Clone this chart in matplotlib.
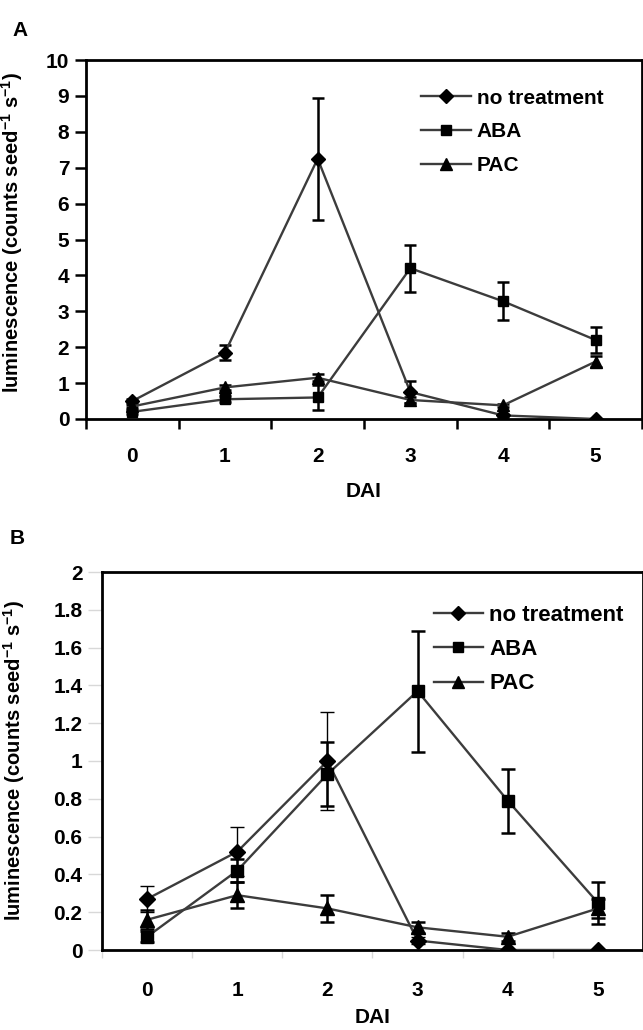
import matplotlib
matplotlib.use("Agg")
import matplotlib.pyplot as plt
from matplotlib.lines import Line2D
import numpy as np

plt.rcParams['font.family'] = ['Liberation Sans', 'DejaVu Sans']
plt.rcParams['font.weight'] = 'bold'
plt.rcParams['mathtext.fontset'] = 'custom'
plt.rcParams['mathtext.rm'] = 'Liberation Sans:bold'
plt.rcParams['mathtext.bf'] = 'Liberation Sans:bold'
plt.rcParams['mathtext.default'] = 'bf'

days = [0, 1, 2, 3, 4, 5]
series_names = ['no treatment', 'ABA', 'PAC']

# Panel A
a_none = [0.50, 1.85, 7.25, 0.75, 0.10, 0.00]
a_none_err = [0.05, 0.20, 1.70, 0.30, 0.05, 0.00]
a_aba = [0.20, 0.55, 0.60, 4.20, 3.28, 2.20]
a_aba_err = [0.05, 0.08, 0.35, 0.65, 0.53, 0.37]
a_pac = [0.35, 0.88, 1.15, 0.53, 0.38, 1.60]
a_pac_err = [0.05, 0.08, 0.10, 0.08, 0.05, 0.15]

# Panel B
b_none = [0.27, 0.52, 1.00, 0.05, 0.00, 0.00]
b_none_err = [0.07, 0.13, 0.26, 0.02, 0.00, 0.00]
b_aba = [0.07, 0.42, 0.93, 1.37, 0.79, 0.25]
b_aba_err = [0.03, 0.06, 0.17, 0.32, 0.17, 0.11]
b_pac = [0.16, 0.29, 0.22, 0.12, 0.07, 0.22]
b_pac_err = [0.05, 0.07, 0.07, 0.03, 0.02, 0.05]

a_yticks = [0, 1, 2, 3, 4, 5, 6, 7, 8, 9, 10]
b_yticks = [0, 0.2, 0.4, 0.6, 0.8, 1, 1.2, 1.4, 1.6, 1.8, 2]
b_yticklabels = ['0', '0.2', '0.4', '0.6', '0.8', '1', '1.2', '1.4', '1.6', '1.8', '2']

LINE = '#3c3c3c'
W, H = 643, 1030
FS = 15
fig = plt.figure(figsize=(W / 100, H / 100), dpi=100)


def px_axes(left, top, right, bottom):
    return fig.add_axes([left / W, 1 - bottom / H, (right - left) / W, (bottom - top) / H])


ylabel = r'luminescence (counts seed$^{-1}$ s$^{-1}$)'

# ---------- Panel A ----------
axA = px_axes(86, 60, 642, 419)
mk = {'no treatment': ('D', 7.5), 'ABA': ('s', 7.5), 'PAC': ('^', 9)}
handlesA = []
for name, y, e in zip(series_names, [a_none, a_aba, a_pac], [a_none_err, a_aba_err, a_pac_err]):
    m, ms = mk[name]
    axA.errorbar(days, y, yerr=e, color=LINE, lw=1.7, marker=m, ms=ms, mfc='black', mec='black',
                 ecolor='black', elinewidth=1.8, capsize=4.5, capthick=1.8, zorder=3)
    handlesA.append(Line2D([], [], color=LINE, lw=1.7, marker=m, ms=ms * 0.9, mfc='black', mec='black'))
axA.set_xlim(-0.5, 5.5)
axA.set_ylim(0, 10)
axA.set_yticks(a_yticks)
axA.set_xticks(np.arange(-0.5, 5.6, 1.0))
axA.set_xticklabels([])
axA.set_xticks(days, minor=True)
axA.set_xticklabels([str(d) for d in days], minor=True)
axA.tick_params(axis='x', which='major', direction='out', length=7, width=1.8, color='black')
axA.tick_params(axis='x', which='minor', length=0, pad=20, labelsize=FS)
axA.tick_params(axis='y', direction='out', length=8, width=1.8, labelsize=FS, pad=4)
for s in axA.spines.values():
    s.set_linewidth(2.0)
axA.set_xlabel('DAI', fontsize=FS, fontweight='bold', labelpad=12)
axA.set_ylabel(ylabel, fontsize=14.5, fontweight='bold')
axA.yaxis.set_label_coords((25 - 86) / 556, 0.52)
axA.legend(handlesA, series_names, loc='center left', bbox_to_anchor=(3.12, 8.0),
           bbox_transform=axA.transData, frameon=False, fontsize=FS, handlelength=2.4,
           handletextpad=0.25, labelspacing=0.7, borderpad=0, borderaxespad=0, numpoints=1)

# ---------- Panel B ----------
axB = px_axes(102, 572, 643, 950)
mkB = {'no treatment': ('D', 8.5), 'ABA': ('s', 9), 'PAC': ('^', 10)}
ew = {'no treatment': 1.0, 'ABA': 1.8, 'PAC': 1.8}
handlesB = []
for name, y, e in zip(series_names, [b_none, b_aba, b_pac], [b_none_err, b_aba_err, b_pac_err]):
    m, ms = mkB[name]
    axB.errorbar(days, y, yerr=e, color=LINE, lw=1.7, marker=m, ms=ms, mfc='black', mec='black',
                 ecolor='black', elinewidth=ew[name], capsize=5, capthick=ew[name], zorder=3)
    handlesB.append(Line2D([], [], color=LINE, lw=1.7, marker=m, ms=ms * 0.85, mfc='black', mec='black'))
axB.set_xlim(-0.5, 5.47)
axB.set_ylim(0, 2)
axB.set_yticks(b_yticks)
axB.set_yticklabels(b_yticklabels)
axB.set_xticks(np.arange(-0.5, 5.6, 1.0))
axB.set_xticklabels([])
axB.set_xticks(days, minor=True)
axB.set_xticklabels([str(d) for d in days], minor=True)
axB.tick_params(axis='x', which='major', direction='out', length=6, width=1.0, color='#d8d8d8')
axB.tick_params(axis='x', which='minor', length=0, pad=22, labelsize=FS)
axB.tick_params(axis='y', direction='out', length=10, width=1.0, color='#d8d8d8', labelsize=FS, pad=4)
for s in axB.spines.values():
    s.set_linewidth(2.0)
axB.set_xlabel('DAI', fontsize=FS, fontweight='bold', labelpad=6)
axB.set_ylabel(ylabel, fontsize=14.5, fontweight='bold')
axB.yaxis.set_label_coords((27 - 102) / 541, 0.5)
axB.legend(handlesB, series_names, loc='center left', bbox_to_anchor=(3.18, 1.59),
           bbox_transform=axB.transData, frameon=False, fontsize=16, handlelength=2.2,
           handletextpad=0.3, labelspacing=0.6, borderpad=0, borderaxespad=0, numpoints=1)

fig.text(20 / W, 1 - 30 / H, 'A', fontsize=FS, fontweight='bold', ha='center', va='center')
fig.text(17 / W, 1 - 538 / H, 'B', fontsize=FS, fontweight='bold', ha='center', va='center')

fig.savefig('out.png', dpi=100)
